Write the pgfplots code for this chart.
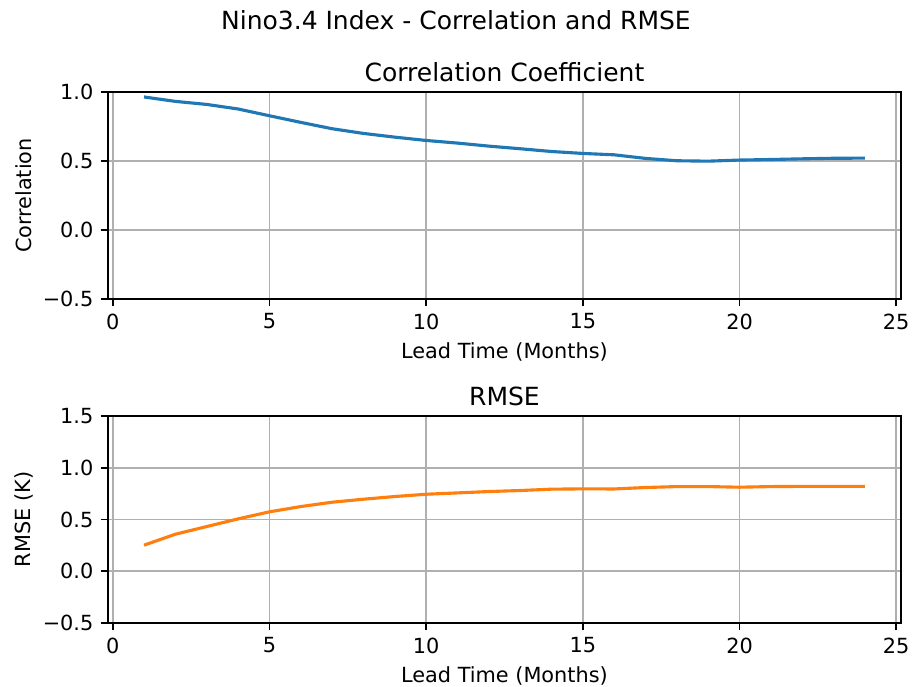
\documentclass[border=0pt]{standalone}
\usepackage{fontspec}
\setmainfont{DejaVu Sans}
\usepackage{pgfplots}
\pgfplotsset{compat=1.18}

\definecolor{mplblue}{HTML}{1F77B4}
\definecolor{mplorange}{HTML}{FF7F0E}
\definecolor{gridgray}{HTML}{B0B0B0}

\pgfplotstableread{
lead corr rmse
1 0.964 0.252
2 0.932 0.358
3 0.910 0.432
4 0.877 0.506
5 0.828 0.574
6 0.780 0.625
7 0.734 0.667
8 0.700 0.696
9 0.673 0.722
10 0.649 0.744
11 0.630 0.757
12 0.608 0.770
13 0.589 0.780
14 0.569 0.793
15 0.555 0.796
16 0.545 0.795
17 0.519 0.809
18 0.502 0.818
19 0.499 0.818
20 0.507 0.812
21 0.511 0.818
22 0.516 0.820
23 0.520 0.820
24 0.521 0.820
}\skill

\pgfplotsset{
  mplstyle/.style={
    width=380.6pt, height=99.4pt,
    scale only axis,
    xmin=-0.15, xmax=25.15,
    xtick={0,5,10,15,20,25},
    grid=major,
    major grid style={gridgray, line width=0.8pt},
    axis line style={line width=0.8pt},
    tick style={black, line width=0.8pt},
    major tick length=3.5pt,
    tick align=outside,
    tick pos=left,
    /pgf/number format/assume math mode=true,
    ticklabel style={font=\fontsize{10}{12}\selectfont},
    label style={font=\fontsize{10}{12}\selectfont},
    title style={font=\fontsize{12}{14}\selectfont, at={(axis description cs:0.5,1)}, anchor=base, yshift=-0.8pt},
    xlabel={Lead Time (Months)},
    xlabel style={at={(axis description cs:0.5,-0.2847)}, anchor=base},
    ylabel style={at={(axis description cs:-0.1059,0.5)}, anchor=center, rotate=0},
  }
}

\begin{document}
\begin{tikzpicture}
\begin{axis}[mplstyle, anchor=north west, at={(0pt,0pt)},
  title={Correlation Coefficient},
  ylabel={Correlation},
  ymin=-0.5, ymax=1.0,
  ytick={-0.5,0,0.5,1.0},
  yticklabels={−0.5,0.0,0.5,1.0},
]
\addplot[mplblue, line width=1.5pt] table[x=lead, y=corr] {\skill};
\end{axis}
\begin{axis}[mplstyle, anchor=north west, at={(0pt,-155.5pt)},
  title={RMSE},
  ylabel={RMSE (K)},
  ymin=-0.5, ymax=1.5,
  ytick={-0.5,0,0.5,1.0,1.5},
  yticklabels={−0.5,0.0,0.5,1.0,1.5},
]
\addplot[mplorange, line width=1.5pt] table[x=lead, y=rmse] {\skill};
\end{axis}
\node[anchor=base, font=\fontsize{12}{14}\selectfont] at (167.0pt,30.1pt) {Nino3.4 Index - Correlation and RMSE};
\pgfresetboundingbox
\path[use as bounding box] (-51.84pt,44.16pt) rectangle (385.92pt,-285.12pt);
\end{tikzpicture}
\end{document}
